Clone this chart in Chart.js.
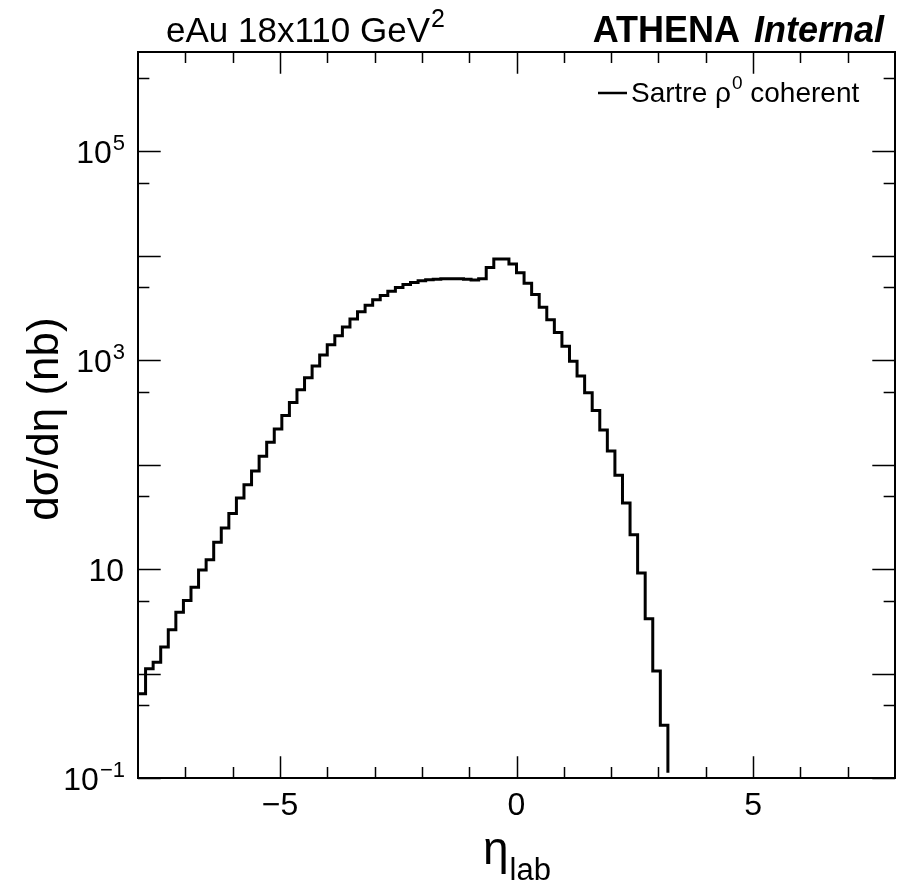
<!DOCTYPE html>
<html>
<head>
<meta charset="utf-8">
<title>Sartre rho0 coherent eta_lab</title>
<script src="https://cdn.jsdelivr.net/npm/chart.js@4.4.1/dist/chart.umd.min.js"></script>
<style>
  html, body { margin: 0; padding: 0; background: #fff; }
  #wrap { width: 901px; height: 891px; position: relative; }
</style>
</head>
<body>
<div id="wrap"><canvas id="etaChart"></canvas></div>
<script>
const ctx = document.getElementById('etaChart').getContext("2d");

// histogram binning: 100 bins from -8 to 8
const ETA_MIN = -8;
const ETA_MAX = 8;
const N_BINS = 100;

// dsigma/deta (nb) per bin (0 = below the axis minimum)
const sigma_values = [
    0.64, 1.11, 1.28, 1.79, 2.62, 3.85, 5.0, 6.7, 9.8, 12.3,
    18.1, 24.7, 34, 47.8, 64, 87, 120, 164, 219, 295,
    393, 520, 677, 877, 1117, 1400, 1710, 2070, 2470, 2900,
    3360, 3780, 4150, 4570, 4950, 5290, 5530, 5740, 5870, 5950,
    6000, 6000, 6000, 5950, 5840, 6000, 7700, 9300, 9300, 8330,
    6850, 5450, 4250, 3210, 2440, 1840, 1360, 977, 703, 487,
    330, 214, 135, 79, 43, 21.3, 9.16, 3.34, 1.06, 0.32,
    0.112, 0, 0, 0, 0, 0, 0, 0, 0, 0,
    0, 0, 0, 0, 0, 0, 0, 0, 0, 0,
    0, 0, 0, 0, 0, 0, 0, 0, 0, 0
];

const x_major_ticks = [-5, 0, 5];
const x_minor_ticks = [-7, -6, -4, -3, -2, -1, 1, 2, 3, 4, 6, 7];
const x_tick_labels = ["\u22125", "0", "5"];

const y_major_ticks = [0.1, 1, 10, 100, 1000, 1e4, 1e5];
const y_minor_ticks = [0.5, 5, 50, 500, 5000, 5e4, 5e5];
const y_label_values = [0.1, 10, 1000, 1e5];
const y_label_exponents = ["\u22121", "", "3", "5"];

const Y_MIN = 0.1;
const Y_MAX = 8.9e5;

// bin left edges + closing edge, for a stepped line
const hist_points = [];
const bin_width = (ETA_MAX - ETA_MIN) / N_BINS;
for (let i = 0; i < N_BINS; i++) {
    hist_points.push({ x: ETA_MIN + i * bin_width, y: sigma_values[i] });
}
hist_points.push({ x: ETA_MAX, y: sigma_values[N_BINS - 1] });

const FONT = '"Liberation Sans", Arial, Helvetica, sans-serif';

function drawSup(c, base, sup, x, y, size, align) {
    // base text with a superscript; x is the anchor for the given align
    c.font = size + "px " + FONT;
    const wb = c.measureText(base).width;
    c.font = Math.round(size * 0.7) + "px " + FONT;
    const ws = c.measureText(sup).width;
    let left = x;
    if (align === "right") left = x - wb - ws;
    else if (align === "center") left = x - (wb + ws) / 2;
    c.textAlign = "left";
    c.textBaseline = "alphabetic";
    c.font = size + "px " + FONT;
    c.fillText(base, left, y);
    c.font = Math.round(size * 0.7) + "px " + FONT;
    c.fillText(sup, left + wb + 1, y - size * 0.42);
}

const rootFrame = {
    id: 'rootFrame',
    afterDraw(chart) {
        const c = chart.ctx;
        const a = chart.chartArea;
        const xs = chart.scales.x;
        const ys = chart.scales.y;
        const H = a.bottom - a.top;
        const W = a.right - a.left;
        const xMaj = 0.03 * H, xMin = 0.015 * H;
        const yMaj = 0.03 * W, yMin = 0.015 * W;

        c.save();
        c.strokeStyle = "#000";
        c.fillStyle = "#000";

        // ticks, inside the frame and mirrored on all sides
        c.lineWidth = 1.5;
        c.beginPath();
        x_major_ticks.concat(x_minor_ticks).forEach((v) => {
            const len = x_major_ticks.includes(v) ? xMaj : xMin;
            const px = Math.round(xs.getPixelForValue(v)) + 0.5;
            c.moveTo(px, a.bottom); c.lineTo(px, a.bottom - len);
            c.moveTo(px, a.top); c.lineTo(px, a.top + len);
        });
        y_major_ticks.concat(y_minor_ticks).forEach((v) => {
            const len = y_major_ticks.includes(v) ? yMaj : yMin;
            const py = Math.round(ys.getPixelForValue(v)) + 0.5;
            c.moveTo(a.left, py); c.lineTo(a.left + len, py);
            c.moveTo(a.right, py); c.lineTo(a.right - len, py);
        });
        c.stroke();

        // frame
        c.lineWidth = 2;
        c.strokeRect(a.left, a.top, W, H);

        // x tick labels
        c.font = "32px " + FONT;
        c.textAlign = "center";
        c.textBaseline = "middle";
        x_major_ticks.forEach((v, i) => {
            c.fillText(x_tick_labels[i], xs.getPixelForValue(v), a.bottom + 28);
        });

        // y tick labels
        y_label_values.forEach((v, i) => {
            const py = ys.getPixelForValue(v);
            drawSup(c, "10", y_label_exponents[i], a.left - 14, py + 12, 32, "right");
        });

        // axis titles
        c.save();
        c.translate(a.left - 80, (a.top + a.bottom) / 2 + 4);
        c.rotate(-Math.PI / 2);
        c.font = "44px " + FONT;
        c.textAlign = "center";
        c.textBaseline = "alphabetic";
        c.fillText("d\u03C3/d\u03B7 (nb)", 0, 0);
        c.restore();

        c.font = "46px " + FONT;
        const wEta = c.measureText("\u03B7").width;
        c.font = "31px " + FONT;
        const wLab = c.measureText("lab").width;
        const xc = (a.left + a.right) / 2;
        const lx = xc - (wEta + wLab) / 2;
        c.textAlign = "left";
        c.textBaseline = "alphabetic";
        c.font = "46px " + FONT;
        c.fillText("\u03B7", lx, a.bottom + 86);
        c.font = "31px " + FONT;
        c.fillText("lab", lx + wEta + 1, a.bottom + 102);

        // header texts
        drawSup(c, "eAu 18x110 GeV", "2", 305, 42, 35, "center");
        c.textAlign = "right";
        c.textBaseline = "alphabetic";
        c.font = "italic bold 36px " + FONT;
        const wInt = c.measureText("Internal").width;
        c.fillText("Internal", 884, 42);
        c.font = "bold 36px " + FONT;
        c.fillText("ATHENA", 884 - wInt - 14, 42);

        // legend
        c.lineWidth = 2.5;
        c.beginPath();
        c.moveTo(598, 93); c.lineTo(627, 93);
        c.stroke();
        c.font = "28px " + FONT;
        c.textAlign = "left";
        const w1 = c.measureText("Sartre \u03C1").width;
        c.fillText("Sartre \u03C1", 631, 102);
        c.font = "19px " + FONT;
        const w2 = c.measureText("0").width;
        c.fillText("0", 631 + w1 + 1, 89);
        c.font = "28px " + FONT;
        c.fillText(" coherent", 631 + w1 + w2 + 1, 102);

        c.restore();
    }
};

const hist_config = {
    type: 'line',
    data: {
        datasets: [{
            label: "Sartre \u03C1\u2070 coherent",
            data: hist_points,
            borderColor: "#000",
            borderWidth: 3,
            pointRadius: 0,
            stepped: true,
            tension: 0,
            fill: false,
            clip: false,
        }]
    },
    options: {
        animation: false,
        responsive: true,
        maintainAspectRatio: false,
        devicePixelRatio: 1,
        layout: {
            padding: { left: 138, right: 6, top: 52, bottom: 113 }
        },
        plugins: {
            legend: { display: false },
            tooltip: { enabled: false },
            title: { display: false },
        },
        scales: {
            x: { type: 'linear', min: ETA_MIN, max: ETA_MAX, display: false },
            y: { type: 'logarithmic', min: Y_MIN, max: Y_MAX, display: false },
        },
    },
    plugins: [rootFrame],
};

const histChart = new Chart(ctx, hist_config);
</script>
</body>
</html>
